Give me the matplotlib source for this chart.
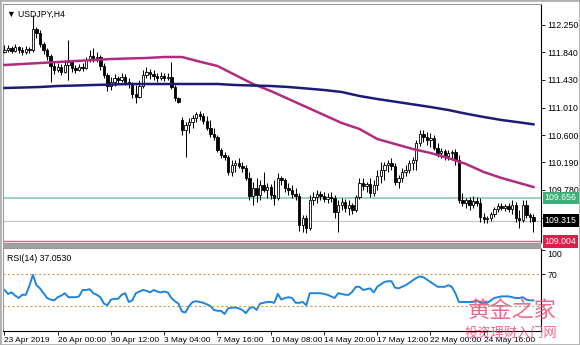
import numpy as np
import matplotlib.pyplot as plt
from matplotlib.patches import Rectangle
from matplotlib.transforms import blended_transform_factory

# USDJPY H4 bars, first bar 23 Apr 2019 12:00
opens = [111.845, 111.875, 111.905, 111.86, 111.92, 111.875, 111.845, 111.89, 111.875, 112.19,
         112.13, 111.965, 111.875, 111.785, 111.635, 111.575, 111.62, 111.545, 111.65, 111.695,
         111.605, 111.575, 111.62, 111.605, 111.725, 111.785, 111.755, 111.77, 111.635, 111.50,
         111.335, 111.395, 111.455, 111.425, 111.47, 111.395, 111.365, 111.215, 111.17, 111.335,
         111.50, 111.545, 111.515, 111.485, 111.455, 111.485, 111.455, 111.47, 111.32, 111.155,
         110.825, 110.675, 110.75, 110.795, 110.855, 110.915, 110.885, 110.81, 110.705, 110.615,
         110.57, 110.375, 110.30, 110.27, 110.045, 110.15, 110.18, 110.135, 110.105, 109.955,
         109.685, 109.805, 109.70, 109.85, 109.775, 109.82, 109.70, 109.655, 109.955, 109.925,
         109.805, 109.775, 109.715, 109.685, 109.25, 109.355, 109.205, 109.625, 109.67, 109.715,
         109.685, 109.64, 109.67, 109.655, 109.445, 109.55, 109.595, 109.505, 109.55, 109.475,
         109.67, 109.88, 109.835, 109.865, 109.73, 109.85, 109.985, 110.075, 110.15, 110.18,
         110.135, 109.895, 109.955, 110.045, 110.075, 110.18, 110.225, 110.48, 110.615, 110.57,
         110.525, 110.555, 110.405, 110.33, 110.36, 110.285, 110.33, 110.345, 110.225, 109.625,
         109.58, 109.625, 109.55, 109.61, 109.58, 109.37, 109.34, 109.355, 109.415, 109.49,
         109.535, 109.505, 109.535, 109.49, 109.55, 109.355, 109.325, 109.55, 109.40, 109.37]
highs = [111.95, 111.95, 111.935, 111.965, 111.935, 111.92, 111.935, 111.92, 112.40, 112.22,
         112.175, 111.995, 111.905, 111.815, 111.695, 111.68, 111.665, 111.725, 112.025, 111.725,
         111.65, 111.665, 111.68, 111.77, 111.875, 111.905, 111.845, 111.80, 111.68, 111.53,
         111.47, 111.515, 111.485, 111.53, 111.515, 111.455, 111.395, 111.35, 111.425, 111.575,
         111.62, 111.59, 111.575, 111.53, 111.545, 111.53, 111.53, 111.695, 111.35, 111.17,
         110.87, 110.795, 110.855, 110.90, 110.945, 110.96, 110.93, 110.885, 110.825, 110.705,
         110.60, 110.405, 110.345, 110.30, 110.225, 110.225, 110.255, 110.195, 110.15, 110.045,
         109.895, 109.955, 109.925, 110.045, 109.88, 109.865, 109.925, 110.03, 109.985, 109.955,
         109.88, 109.85, 109.805, 109.73, 109.40, 109.40, 109.70, 109.745, 109.775, 109.76,
         109.745, 109.73, 109.745, 109.70, 109.625, 109.655, 109.64, 109.625, 109.58, 109.70,
         109.955, 109.955, 109.895, 109.955, 109.925, 110.075, 110.195, 110.195, 110.225, 110.255,
         110.18, 110.00, 110.105, 110.15, 110.225, 110.27, 110.525, 110.675, 110.675, 110.645,
         110.63, 110.60, 110.48, 110.405, 110.39, 110.375, 110.375, 110.39, 110.30, 109.73,
         109.655, 109.67, 109.685, 109.67, 109.655, 109.43, 109.385, 109.445, 109.52, 109.58,
         109.58, 109.565, 109.58, 109.625, 109.595, 109.475, 109.625, 109.625, 109.43, 109.415]
lows = [111.83, 111.845, 111.83, 111.845, 111.83, 111.80, 111.815, 111.83, 111.845, 112.055,
        111.92, 111.815, 111.725, 111.395, 111.515, 111.545, 111.50, 111.53, 111.425, 111.545,
        111.53, 111.56, 111.56, 111.59, 111.695, 111.695, 111.695, 111.575, 111.455, 111.26,
        111.275, 111.335, 111.365, 111.395, 111.35, 111.305, 111.155, 111.08, 111.155, 111.305,
        111.455, 111.44, 111.425, 111.395, 111.425, 111.41, 111.425, 111.29, 111.11, 111.08,
        110.60, 110.27, 110.63, 110.705, 110.795, 110.825, 110.765, 110.675, 110.57, 110.525,
        110.345, 110.255, 110.225, 110.00, 109.985, 110.045, 110.105, 110.045, 109.925, 109.625,
        109.55, 109.595, 109.625, 109.745, 109.655, 109.64, 109.55, 109.625, 109.85, 109.745,
        109.70, 109.655, 109.625, 109.16, 109.145, 109.13, 109.175, 109.55, 109.58, 109.625,
        109.595, 109.58, 109.595, 109.355, 109.145, 109.475, 109.445, 109.40, 109.415, 109.445,
        109.64, 109.775, 109.745, 109.67, 109.685, 109.775, 109.88, 109.925, 110.045, 110.075,
        109.85, 109.805, 109.895, 109.985, 110.03, 110.075, 110.075, 110.435, 110.495, 110.45,
        110.42, 110.375, 110.27, 110.255, 110.225, 110.225, 110.255, 110.15, 109.58, 109.535,
        109.505, 109.475, 109.505, 109.535, 109.295, 109.28, 109.28, 109.31, 109.37, 109.445,
        109.475, 109.46, 109.445, 109.415, 109.295, 109.205, 109.295, 109.355, 109.295, 109.145]
closes = [111.875, 111.905, 111.86, 111.92, 111.875, 111.845, 111.89, 111.875, 112.19, 112.13,
          111.965, 111.875, 111.785, 111.635, 111.575, 111.62, 111.545, 111.65, 111.695, 111.605,
          111.575, 111.62, 111.605, 111.725, 111.785, 111.755, 111.77, 111.635, 111.50, 111.335,
          111.395, 111.455, 111.425, 111.47, 111.395, 111.365, 111.215, 111.17, 111.335, 111.50,
          111.545, 111.515, 111.485, 111.455, 111.485, 111.455, 111.47, 111.32, 111.155, 111.095,
          110.675, 110.75, 110.795, 110.855, 110.915, 110.885, 110.81, 110.705, 110.615, 110.57,
          110.375, 110.30, 110.27, 110.045, 110.15, 110.18, 110.135, 110.105, 109.955, 109.685,
          109.805, 109.70, 109.85, 109.775, 109.82, 109.70, 109.655, 109.955, 109.925, 109.805,
          109.775, 109.715, 109.685, 109.25, 109.355, 109.205, 109.625, 109.67, 109.715, 109.685,
          109.64, 109.67, 109.655, 109.445, 109.55, 109.595, 109.505, 109.55, 109.475, 109.67,
          109.88, 109.835, 109.865, 109.73, 109.85, 109.985, 110.075, 110.15, 110.18, 110.135,
          109.895, 109.955, 110.045, 110.075, 110.18, 110.225, 110.48, 110.615, 110.57, 110.525,
          110.555, 110.405, 110.33, 110.36, 110.285, 110.33, 110.345, 110.225, 109.625, 109.58,
          109.625, 109.55, 109.61, 109.58, 109.37, 109.34, 109.355, 109.415, 109.49, 109.535,
          109.505, 109.535, 109.49, 109.55, 109.355, 109.325, 109.55, 109.40, 109.37, 109.315]

# moving averages read every 5 bars
ma_bars = [0, 5, 10, 15, 20, 25, 30, 35, 40, 45, 50, 55, 60, 65, 70, 75, 80, 85, 90, 95,
           100, 105, 110, 115, 120, 125, 130, 135, 140, 145, 149]
ma_fast = [111.65, 111.665, 111.68, 111.695, 111.71, 111.725, 111.74, 111.748, 111.755, 111.77,
           111.77, 111.70, 111.635, 111.50, 111.365, 111.26, 111.14, 111.02, 110.90, 110.78,
           110.69, 110.54, 110.465, 110.39, 110.33, 110.255, 110.165, 110.045, 109.955, 109.88, 109.82]
ma_slow = [111.305, 111.312, 111.32, 111.335, 111.342, 111.35, 111.357, 111.365, 111.365, 111.365,
           111.365, 111.365, 111.365, 111.35, 111.342, 111.335, 111.32, 111.298, 111.275, 111.245,
           111.185, 111.14, 111.10, 111.06, 111.02, 110.975, 110.92, 110.87, 110.825, 110.79, 110.76]

rsi = [50, 45, 47, 43, 40, 44, 44, 55, 69, 56, 52, 46, 40, 38, 37, 41, 43, 46, 41, 41,
       41, 42, 50, 50, 51, 46, 44, 41, 33, 31, 38, 39, 39, 44, 46, 35, 37, 46, 48, 50,
       49, 47, 50, 48, 47, 48, 47, 40, 36, 33, 23, 22, 30, 35, 36, 35, 34, 32, 30, 25,
       24, 24, 20, 27, 28, 28, 27, 25, 21, 27, 29, 25, 33, 34, 35, 35, 34, 45, 38, 40,
       41, 40, 34, 34, 35, 31, 46, 46, 46, 46, 45, 44, 42, 40, 46, 45, 44, 44, 48, 54,
       54, 50, 51, 52, 47, 54, 57, 60, 61, 61, 53, 52, 54, 56, 59, 62, 65, 67, 66, 63,
       60, 57, 54, 54, 54, 56, 54, 46, 35, 35, 35, 35, 35, 37, 34, 34, 34, 37, 40, 41,
       42, 42, 42, 41, 40, 40, 41, 38, 37, 37.053]

price_ticks = [112.25, 111.84, 111.43, 111.01, 110.60, 110.19, 109.78, 109.36]
time_bars = [0, 15, 30, 45, 60, 75, 90, 105, 120, 135]
time_labels = ['23 Apr 2019', '26 Apr 00:00', '30 Apr 12:00', '3 May 04:00', '7 May 16:00',
               '10 May 08:00', '14 May 20:00', '17 May 12:00', '22 May 00:00', '24 May 16:00']
level_green = 109.656
level_bid = 109.315
level_red = 109.004

W, H = 580, 345
fs = 6.3
plt.rcParams['font.family'] = ['Liberation Sans', 'DejaVu Sans']


def rect(x0, y0, x1, y1):
    return [x0 / W, 1 - y1 / H, (x1 - x0) / W, (y1 - y0) / H]


fig = plt.figure(figsize=(W / 100, H / 100), dpi=100)
ax = fig.add_axes(rect(3, 4, 541, 243))
ax2 = fig.add_axes(rect(3, 248, 541, 331))

n = len(closes)
x = np.arange(n)
o = np.array(opens)
c = np.array(closes)
up = c >= o
bottom = np.minimum(o, c)
height = np.maximum(np.abs(c - o), 0.006)

ax.vlines(x, lows, highs, color='black', lw=0.75, zorder=3)
ax.bar(x[up], height[up], bottom=bottom[up], width=0.66, facecolor='white',
       edgecolor='black', linewidth=0.6, zorder=4)
ax.bar(x[~up], height[~up], bottom=bottom[~up], width=0.66, facecolor='black',
       edgecolor='black', linewidth=0.6, zorder=4)

ax.plot(ma_bars, ma_fast, color='#b02c80', lw=1.8, zorder=5)
ax.plot(ma_bars, ma_slow, color='#1c1c78', lw=1.8, zorder=5)

ax.axhline(level_green, color='#8ccaae', lw=1.2, zorder=1)
ax.axhline(level_bid, color='#c4c4c4', lw=0.8, zorder=1)
ax.axhline(level_red, color='#b8708c', lw=1.0, zorder=1)

xmin = -0.42
xmax = xmin + 538 / 3.55
ax.set_xlim(xmin, xmax)
ax.set_ylim(108.98, 112.565)
ax.set_xticks([])
ax.yaxis.tick_right()
ax.set_yticks(price_ticks)
ax.set_yticklabels(['%.3f' % v for v in price_ticks])
ax.tick_params(axis='y', direction='out', length=3, width=0.6, labelsize=fs, pad=1.5)
for s in ['left', 'top', 'bottom']:
    ax.spines[s].set_color('#9a9a9a')
ax.spines['right'].set_linewidth(0.8)

tr = blended_transform_factory(ax.transAxes, ax.transData)
for val, fc in [(level_green, '#3fae78'), (level_bid, '#000000'), (level_red, '#dc1e4a')]:
    ax.text(1.007, val, '%.3f' % val, transform=tr, ha='left', va='center', color='white',
            fontsize=fs, clip_on=False, zorder=10,
            bbox=dict(boxstyle='square,pad=0.22', fc=fc, ec='none'))

ax.text(0.008, 0.975, '\u25bc USDJPY,H4', transform=ax.transAxes, ha='left', va='top', fontsize=fs)

# RSI panel
ax2.plot(x, rsi, color='#1f84dc', lw=1.4)
ax2.axhline(70, color='#c8a24a', lw=0.8, ls=(0, (2, 2)))
ax2.axhline(30, color='#c8a24a', lw=0.8, ls=(0, (2, 2)))
ax2.set_xlim(xmin, xmax)
ax2.set_ylim(-1.25, 102.5)
ax2.yaxis.tick_right()
ax2.set_yticks([100, 70])
ax2.set_yticklabels(['100', '70'])
ax2.get_yticklabels()[0].set_va('top')
ax2.tick_params(axis='y', direction='out', length=3, width=0.6, labelsize=fs, pad=1.5)
ax2.set_xticks(time_bars)
ax2.set_xticklabels(time_labels, ha='left')
ax2.tick_params(axis='x', direction='out', length=3, width=0.6, labelsize=6.0, pad=1.2)
for s in ['left', 'top']:
    ax2.spines[s].set_color('#9a9a9a')
ax2.text(0.008, 0.93, 'RSI(14) 37.0530', transform=ax2.transAxes, ha='left', va='top', fontsize=fs)

# separators and frame
fig.patches.append(Rectangle((3 / W, 1 - 248 / H), 538 / W, 4 / H, transform=fig.transFigure,
                             fc='#a0a0a0', ec='none'))
fig.patches.append(Rectangle((0, 0), 1, 1, transform=fig.transFigure, fill=False,
                             ec='#b0b0b0', lw=2))

# watermark
fig.text(512 / W, 1 - 311 / H, '黄金之家', ha='center', va='center', fontsize=16,
         color='#e8507a', alpha=0.85, family=['Noto Sans CJK SC', 'DejaVu Sans'])
fig.text(511 / W, 1 - 333 / H, '投资理财入门网', ha='center', va='center', fontsize=9.5,
         color='#e8507a', alpha=0.85, family=['Noto Sans CJK SC', 'DejaVu Sans'])

fig.savefig('out.png', dpi=100)
